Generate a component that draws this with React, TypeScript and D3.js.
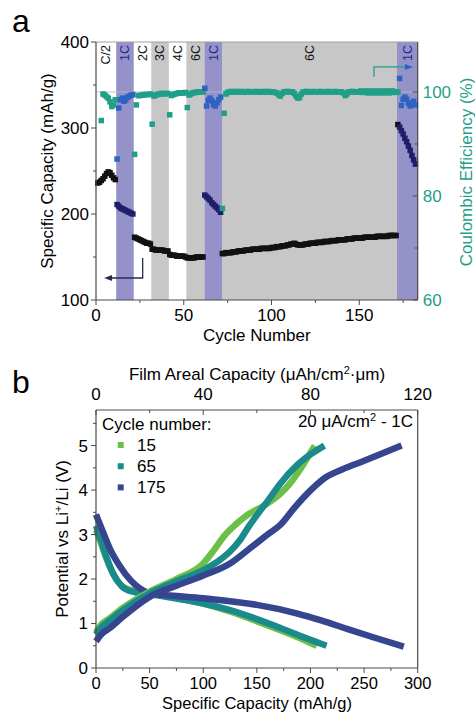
import React from "react";
import * as d3 from "d3";

// ---------- panel a: rate capability / cycling ----------
// rate steps: label, band edges (cycle units), band kind
const bandEdges = [0, 11.5, 21.5, 31.5, 41.5, 51.5, 61.8, 71.8, 171.5, 183.3];
const bandLabels = ["C/2", "1C", "2C", "3C", "4C", "6C", "1C", "6C", "1C"];
const bandKinds = ["white", "oneC", "white", "gray", "white", "gray", "oneC", "gray", "oneC"];

// specific capacity (mAh/g) per cycle, one array per rate step
const capC2 = [236, 237, 239, 241, 244, 247, 249, 248, 245, 242, 240]; // cycles 1-11
const cap1Ca = [211, 209, 207, 206, 205, 204, 203, 202, 201, 200]; // 12-21
const cap2C = [173, 172, 171, 170, 169, 168, 167, 166, 166, 165]; // 22-31
const cap3C = [159, 159, 158, 158, 158, 158, 158, 157, 157, 157]; // 32-41
const cap4C = [153, 152, 152, 152, 151, 151, 151, 151, 151, 150]; // 42-51
const cap6Ca = [149, 149, 149, 149, 149, 150, 150, 150, 150, 150]; // 52-61
const cap1Cb = [222, 220, 218, 216, 213, 211, 209, 207, 205, 202]; // 62-71
const cap6Cb = [
  154, 154, 155, 155,
  155, 155, 156, 156, 156, 157, 157, 157, 157, 158,
  158, 158, 158, 159, 159, 159, 159, 159, 160, 160,
  160, 160, 160, 160, 161, 161, 161, 162, 162, 162,
  163, 163, 163, 164, 164, 165, 165, 166, 165, 164,
  164, 164, 164, 165, 165, 165, 166, 166, 166, 166,
  167, 167, 167, 167, 168, 168, 168, 168, 169, 169,
  169, 169, 170, 170, 170, 170, 170, 171, 171, 171,
  171, 172, 172, 172, 172, 172, 172, 173, 173, 173,
  173, 173, 173, 173, 174, 174, 174, 174, 174, 174,
  174, 175, 175, 175, 175, 175, 304,
]; // 72-172
const cap1Cc = [301, 297, 293, 288, 284, 279, 274, 268, 263, 258]; // 173-182

// coulombic efficiency (%) per cycle
const ceC2 = [null, null, 94.5, 99.6, 99.4, 99.1, 98.8, 98.1, 97.2, 97.5, 98.5];
const ce1Ca = [87.1, 96.9, 98.5, 98.8, 98.2, 98.5, 99.0, 99.2, 99.4, 99.5];
const ce2C = [88.0, 97.5, 99.3, 99.3, 99.4, 99.4, 99.5, 99.5, 99.5, 99.6];
const ce3C = [93.8, 99.2, 99.4, 99.5, 99.6, 99.7, 99.7, 99.6, 99.7, 99.7];
const ce4C = [95.6, 99.3, 99.5, 99.6, 99.7, 99.8, 99.8, 99.8, 99.8, 99.9];
const ce6Ca = [97.0, 99.4, 99.6, 99.8, 99.9, 99.9, 100.0, 100.0, 100.0, 100.0];
const ce1Cb = [100.7, 97.3, 98.4, 98.8, 98.3, 97.6, 97.3, 97.9, 98.5, 99.0];
const ce6Cb = [
  77.6, 95.9, 99.6, 99.9,
  100.0, 100.1, 100.0, 100.0, 100.1, 100.0, 100.0, 100.1, 100.0, 100.0,
  100.0, 100.1, 100.0, 100.0, 100.0, 100.1, 100.0, 100.0, 100.0, 100.1,
  100.0, 100.0, 100.1, 100.0, 100.0, 100.0, 99.9, 99.8, 99.5, 99.2,
  99.7, 100.0, 100.0, 100.1, 100.0, 100.0, 100.0, 99.7, 99.2, 98.8,
  98.9, 99.6, 100.0, 100.0, 100.1, 100.0, 100.0, 100.0, 100.1, 100.0,
  100.0, 100.0, 100.1, 100.0, 100.0, 100.0, 100.1, 100.0, 100.0, 100.0,
  100.1, 100.0, 100.0, 100.0, 100.0, 99.8, 99.3, 99.6, 100.0, 100.0,
  100.1, 100.0, 100.0, 100.0, 100.0, 100.2, 99.9, 100.0, 100.2, 99.8,
  100.0, 100.2, 99.8, 100.0, 100.2, 99.8, 100.0, 100.2, 99.8, 100.0,
  100.2, 99.8, 100.0, 100.2, 99.9, 100.0, 100.0,
];
const ce1Cc = [102.6, 97.4, 98.6, 99.0, 98.6, 97.8, 97.3, 97.8, 98.2, 97.5];

const steps = [
  { first: 1, cap: capC2, ce: ceC2, oneC: false },
  { first: 12, cap: cap1Ca, ce: ce1Ca, oneC: true },
  { first: 22, cap: cap2C, ce: ce2C, oneC: false },
  { first: 32, cap: cap3C, ce: ce3C, oneC: false },
  { first: 42, cap: cap4C, ce: ce4C, oneC: false },
  { first: 52, cap: cap6Ca, ce: ce6Ca, oneC: false },
  { first: 62, cap: cap1Cb, ce: ce1Cb, oneC: true },
  { first: 72, cap: cap6Cb, ce: ce6Cb, oneC: false },
  { first: 173, cap: cap1Cc, ce: ce1Cc, oneC: true },
];

const cycleTicks = [0, 50, 100, 150];
const cycleMinor = [25, 75, 125, 175];
const capTicks = [100, 200, 300, 400];
const capMinor = [150, 250, 350];
const ceTicks = [60, 80, 100];
const ceMinor = [70, 90];

// ---------- panel b: voltage profiles ----------
const cycleNames = ["15", "65", "175"];
const charge15 = [[0, 0.8], [5, 0.98], [13, 1.12], [25, 1.35], [50, 1.72], [75, 2.0], [100, 2.35], [110, 2.65], [120, 2.98], [130, 3.22], [140, 3.42], [160, 3.7], [172, 3.92], [181, 4.15], [190, 4.45], [197, 4.72], [204, 5.0]];
const charge65 = [[0, 0.75], [5, 0.92], [13, 1.07], [25, 1.3], [50, 1.68], [75, 1.95], [100, 2.2], [115, 2.42], [125, 2.62], [135, 2.9], [143, 3.2], [152, 3.5], [160, 3.75], [172, 4.15], [187, 4.55], [200, 4.8], [213, 5.0]];
const charge175 = [[0, 0.6], [5, 0.76], [13, 0.9], [25, 1.15], [50, 1.6], [75, 1.85], [100, 2.08], [125, 2.35], [143, 2.68], [160, 3.0], [172, 3.22], [185, 3.6], [197, 3.92], [215, 4.3], [230, 4.47], [249, 4.65], [285, 5.0]];
const discharge15 = [[0, 3.1], [4, 2.85], [9, 2.5], [16, 2.12], [24, 1.85], [33, 1.75], [45, 1.7], [60, 1.64], [80, 1.55], [100, 1.45], [125, 1.27], [150, 1.05], [175, 0.82], [195, 0.62], [206, 0.5]];
const discharge65 = [[0, 3.2], [4, 2.92], [9, 2.55], [16, 2.12], [24, 1.84], [33, 1.72], [50, 1.66], [75, 1.56], [100, 1.45], [125, 1.3], [150, 1.1], [172, 0.9], [195, 0.68], [215, 0.5]];
const discharge175 = [[0, 3.45], [5, 3.15], [13, 2.68], [22, 2.3], [32, 1.98], [45, 1.73], [55, 1.66], [75, 1.62], [100, 1.57], [125, 1.5], [150, 1.42], [187, 1.23], [210, 1.07], [234, 0.88], [260, 0.68], [287, 0.48]];
const curveColors = ["#6cc04a", "#1b8a8d", "#35468f"];

const capBTicks = [0, 50, 100, 150, 200, 250, 300];
const capBMinor = [25, 75, 125, 175, 225, 275];
const arealTicks = [0, 40, 80, 120];
const arealMinor = [20, 60, 100];
const voltTicks = [0, 1, 2, 3, 4, 5];
const voltMinor = [0.5, 1.5, 2.5, 3.5, 4.5, 5.5];

const FONT = "'Liberation Sans', Arial, sans-serif";
const AX = "#4a4a4a";
const TEAL = "#1f9f88";
const NAVY = "#1e1e6a";
const BLUE = "#2f63c2";
const PURPLE = "#9492c9";
const GRAY = "#c7c7c7";

export default function App() {
  // scales panel a
  const xA = d3.scaleLinear().domain([0, 183.3]).range([96, 417.7]);
  const yCap = d3.scaleLinear().domain([100, 400]).range([300, 42]);
  const yCE = d3.scaleLinear().domain([60, 109.6]).range([300, 42]);
  // scales panel b
  const xB = d3.scaleLinear().domain([0, 300]).range([96, 417.7]);
  const xTop = d3.scaleLinear().domain([0, 120]).range([96, 417.7]);
  const yV = d3.scaleLinear().domain([0, 5.8]).range([668, 410]);

  const line = d3
    .line<number[]>()
    .x((d) => xB(d[0]))
    .y((d) => yV(d[1]))
    .curve(d3.curveMonotoneX);

  const charges = [charge15, charge65, charge175];
  const discharges = [discharge15, discharge65, discharge175];

  const sq = 5.5;
  const capPts: JSX.Element[] = [];
  const cePts: JSX.Element[] = [];
  steps.forEach((s, si) => {
    s.cap.forEach((v, i) => {
      const c = s.first + i;
      capPts.push(
        <rect key={`c${si}-${i}`} x={xA(c) - sq / 2} y={yCap(v) - sq / 2} width={sq} height={sq}
          fill={s.oneC ? NAVY : "#111"} />
      );
    });
    s.ce.forEach((v, i) => {
      if (v == null) return;
      const c = s.first + i;
      cePts.push(
        <rect key={`e${si}-${i}`} x={xA(c) - sq / 2} y={yCE(v) - sq / 2} width={sq} height={sq}
          fill={s.oneC ? BLUE : TEAL} />
      );
    });
  });

  const [a0, a1] = xA.range();

  return (
    <svg width={475} height={714} style={{ position: "absolute", left: 0, top: 0, fontFamily: FONT }}>
      <rect width={475} height={714} fill="#fff" />
      {/* ---------------- panel a ---------------- */}
      <text x={12} y={32} fontSize={32}>a</text>
      {bandLabels.map((lab, i) => {
        const kind = bandKinds[i];
        const x0 = xA(bandEdges[i]);
        const x1 = xA(bandEdges[i + 1]);
        return (
          <g key={`band${i}`}>
            {kind !== "white" && (
              <rect x={x0} y={42} width={x1 - x0} height={258} fill={kind === "oneC" ? PURPLE : GRAY} />
            )}
            <text transform={`translate(${(x0 + x1) / 2},45) rotate(-90)`} textAnchor="end" dy="0.35em"
              fontSize={12.5} fill={kind === "oneC" ? "#27278a" : "#111"}>{lab}</text>
          </g>
        );
      })}
      <line x1={a0} x2={a1} y1={yCE(100)} y2={yCE(100)} stroke="#b8b8c8" strokeWidth={0.8} />
      {capPts}
      {cePts}
      {/* frame */}
      <line x1={a0} x2={a1} y1={42} y2={42} stroke="#a0a0a0" strokeWidth={1} />
      <line x1={a0} x2={a0} y1={42} y2={300} stroke={AX} strokeWidth={1.2} />
      <line x1={a0} x2={a1} y1={300} y2={300} stroke={AX} strokeWidth={1.2} />
      <line x1={a1} x2={a1} y1={42} y2={300} stroke={AX} strokeWidth={1.2} />
      {capTicks.map((t) => (
        <g key={`ct${t}`}>
          <line x1={a0 - 5} x2={a0} y1={yCap(t)} y2={yCap(t)} stroke={AX} />
          <text x={a0 - 7} y={yCap(t)} dy="0.35em" textAnchor="end" fontSize={17}>{t}</text>
        </g>
      ))}
      {capMinor.map((t) => (
        <line key={`cm${t}`} x1={a0 - 3} x2={a0} y1={yCap(t)} y2={yCap(t)} stroke={AX} />
      ))}
      {ceTicks.map((t) => (
        <g key={`et${t}`}>
          <line x1={a1 - 5} x2={a1} y1={yCE(t)} y2={yCE(t)} stroke={AX} />
          <text x={a1 + 5} y={yCE(t)} dy="0.35em" fontSize={17} fill={TEAL}>{t}</text>
        </g>
      ))}
      {ceMinor.map((t) => (
        <line key={`em${t}`} x1={a1 - 3} x2={a1} y1={yCE(t)} y2={yCE(t)} stroke={AX} />
      ))}
      {cycleTicks.map((t) => (
        <g key={`xt${t}`}>
          <line x1={xA(t)} x2={xA(t)} y1={300} y2={305} stroke={AX} />
          <text x={xA(t)} y={321} textAnchor="middle" fontSize={17}>{t}</text>
        </g>
      ))}
      {cycleMinor.map((t) => (
        <line key={`xm${t}`} x1={xA(t)} x2={xA(t)} y1={300} y2={303} stroke={AX} />
      ))}
      <text x={(a0 + a1) / 2} y={341} textAnchor="middle" fontSize={17}>Cycle Number</text>
      <text transform={`translate(53,171) rotate(-90)`} textAnchor="middle" fontSize={17}>Specific Capacity (mAh/g)</text>
      <text transform={`translate(472,172) rotate(-90)`} textAnchor="middle" fontSize={17} fill={TEAL}>Coulombic Efficiency (%)</text>
      {/* arrows */}
      <path d={`M${xA(26.6)},${yCap(148.8)} V${yCap(125.6)} H${xA(4.6) + 6}`} fill="none" stroke="#2a2a50" strokeWidth={1.3} />
      <polygon points={`${xA(4.6)},${yCap(125.6)} ${xA(4.6) + 8},${yCap(125.6) - 3} ${xA(4.6) + 8},${yCap(125.6) + 3}`} fill="#2a2a50" />
      <path d={`M${xA(158.4)},${yCE(102.9)} V${yCE(104.8)} H${xA(180.6) - 6}`} fill="none" stroke={TEAL} strokeWidth={1.3} />
      <polygon points={`${xA(180.6)},${yCE(104.8)} ${xA(180.6) - 8},${yCE(104.8) - 3} ${xA(180.6) - 8},${yCE(104.8) + 3}`} fill={BLUE} />

      {/* ---------------- panel b ---------------- */}
      <text x={12} y={393} fontSize={32}>b</text>
      {discharges.map((d, i) => (
        <path key={`d${i}`} d={line(d as number[][]) || ""} fill="none" stroke={curveColors[i]} strokeWidth={6.5} />
      ))}
      {charges.map((d, i) => (
        <path key={`ch${i}`} d={line(d as number[][]) || ""} fill="none" stroke={curveColors[i]} strokeWidth={6.5} />
      ))}
      {/* axes */}
      <line x1={96} x2={96} y1={410} y2={668} stroke={AX} strokeWidth={1.2} />
      <line x1={96} x2={417.7} y1={668} y2={668} stroke={AX} strokeWidth={1.2} />
      <line x1={96} x2={417.7} y1={410} y2={410} stroke={AX} strokeWidth={1.2} />
      <line x1={417.7} x2={417.7} y1={410} y2={668} stroke={AX} strokeWidth={1.2} />
      {voltTicks.map((t) => (
        <g key={`vt${t}`}>
          <line x1={91} x2={96} y1={yV(t)} y2={yV(t)} stroke={AX} />
          <text x={88} y={yV(t)} dy="0.35em" textAnchor="end" fontSize={17}>{t}</text>
        </g>
      ))}
      {voltMinor.map((t) => (
        <line key={`vm${t}`} x1={93} x2={96} y1={yV(t)} y2={yV(t)} stroke={AX} />
      ))}
      {capBTicks.map((t) => (
        <g key={`bt${t}`}>
          <line x1={xB(t)} x2={xB(t)} y1={668} y2={673} stroke={AX} />
          <text x={xB(t)} y={689} textAnchor="middle" fontSize={16.5}>{t}</text>
        </g>
      ))}
      {capBMinor.map((t) => (
        <line key={`bm${t}`} x1={xB(t)} x2={xB(t)} y1={668} y2={671} stroke={AX} />
      ))}
      {arealTicks.map((t) => (
        <g key={`at${t}`}>
          <line x1={xTop(t)} x2={xTop(t)} y1={410} y2={415} stroke={AX} />
          <text x={xTop(t)} y={400} textAnchor="middle" fontSize={17}>{t}</text>
        </g>
      ))}
      {arealMinor.map((t) => (
        <line key={`am${t}`} x1={xTop(t)} x2={xTop(t)} y1={410} y2={413} stroke={AX} />
      ))}
      <text x={257} y={380} textAnchor="middle" fontSize={17}>
        Film Areal Capacity (μAh/cm<tspan dy={-6} fontSize={11}>2</tspan><tspan dy={6}>·μm)</tspan>
      </text>
      <text x={257} y={709} textAnchor="middle" fontSize={16.5}>Specific Capacity (mAh/g)</text>
      <text transform={`translate(68,539) rotate(-90)`} textAnchor="middle" fontSize={17}>
        Potential vs Li<tspan dy={-6} fontSize={11}>+</tspan><tspan dy={6}>/Li (V)</tspan>
      </text>
      {/* legend */}
      <text x={102} y={430} fontSize={17}>Cycle number:</text>
      {cycleNames.map((n, i) => (
        <g key={`lg${n}`}>
          <rect x={117.7} y={445 + i * 21.2 - 3} width={6} height={6} fill={curveColors[i]} />
          <text x={137} y={445 + i * 21.2} dy="0.35em" fontSize={17}>{n}</text>
        </g>
      ))}
      <text x={413} y={427} textAnchor="end" fontSize={17}>
        20 μA/cm<tspan dy={-6} fontSize={11}>2</tspan><tspan dy={6}> - 1C</tspan>
      </text>
    </svg>
  );
}
